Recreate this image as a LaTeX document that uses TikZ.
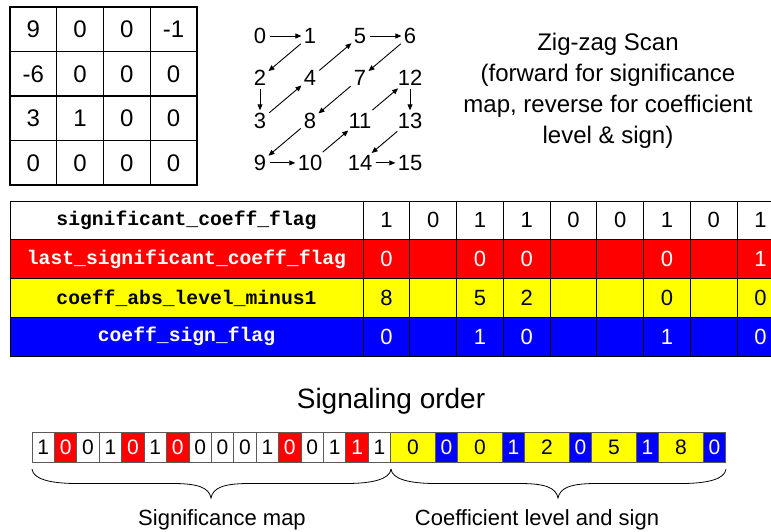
\documentclass[tikz,border=0pt]{standalone}
\usepackage{fontspec}
\setmainfont{Liberation Sans}
\setmonofont{Liberation Mono}
\usetikzlibrary{arrows.meta}
\definecolor{cred}{RGB}{255,0,0}
\definecolor{cyel}{RGB}{255,255,0}
\definecolor{cblue}{RGB}{0,0,255}
\definecolor{cgrid}{RGB}{90,90,90}
\newcommand{\fsz}[1]{\fontsize{#1}{#1}\selectfont}
\newcommand{\mybrace}[3]{%
  \draw[line width=0.8pt] (#1,469) .. controls (#1+1,479) and (#1+18,483.5) .. (#1+45,483.5)
    -- (#2-38,483.5) .. controls (#2-12,483.5) and (#2-2,488) .. (#2,498)
    .. controls (#2+2,488) and (#2+12,483.5) .. (#2+38,483.5)
    -- (#3-45,483.5) .. controls (#3-18,483.5) and (#3-1,479) .. (#3,469);}
\begin{document}
\begin{tikzpicture}[x=1pt,y=-1pt,
  matcell/.style={draw=black, line width=1.3pt, minimum width=46.75pt, minimum height=44.5pt, inner sep=0pt, outer sep=0pt, font=\fsz{24}},
  zz/.style={inner sep=1.8pt, font=\fsz{22}},
  arr/.style={-{Triangle[length=6pt,width=5pt]}, line width=0.9pt, shorten <=1.5pt, shorten >=0.5pt},
  tcell/.style={draw=black, line width=1pt, minimum width=46.75pt, minimum height=38.75pt, inner sep=0pt, outer sep=0pt, font=\fsz{22}},
  lcell/.style={draw=black, line width=1pt, minimum width=353pt, minimum height=38.75pt, inner sep=0pt, outer sep=0pt, font=\fsz{19.7}\ttfamily\bfseries},
  bcell/.style={draw=cgrid, line width=0.8pt, minimum height=30pt, inner sep=0pt, outer sep=0pt, font=\fsz{21}},
  ttl/.style={align=center, inner sep=0pt}
]
\useasboundingbox (0,0) rectangle (771,531);

% ---- 4x4 matrix
\foreach \v [count=\i from 0] in {9,0,0,-1,-6,0,0,0,3,1,0,0,0,0,0,0} {
  \pgfmathtruncatemacro\cc{mod(\i,4)}
  \pgfmathtruncatemacro\rr{div(\i,4)}
  \node[matcell] (m\i) at ({10+46.75*\cc+23.375},{7+44.5*\rr+22.25}) {\v};
}

% ---- zig-zag scan numbers
\foreach \n/\cc/\rr in {0/0/0,1/1/0,5/2/0,6/3/0,2/0/1,4/1/1,7/2/1,12/3/1,3/0/2,8/1/2,11/2/2,13/3/2,9/0/3,10/1/3,14/2/3,15/3/3} {
  \node[zz] (z\n) at ({260+50*\cc},{36+42.3*\rr}) {\n};
}
\foreach \a/\b in {0/1,1/2,2/3,3/4,4/5,5/6,6/7,7/8,8/9,9/10,10/11,11/12,12/13,13/14,14/15} {
  \draw[arr] (z\a) -- (z\b);
}

\node[ttl, font=\fontsize{24}{31}\selectfont] (zzt) at (608,91) {Zig-zag Scan\\(forward for significance\\map, reverse for coefficient\\level \& sign)};

% ---- syntax table
\begin{scope}
\clip (0,0) rectangle (771,531);
\foreach \r/\lab/\fc/\tc/\vals in {
  0/significant\_coeff\_flag/white/black/{1,0,1,1,0,0,1,0,1},
  1/last\_significant\_coeff\_flag/cred/white/{0,{},0,0,{},{},0,{},1},
  2/coeff\_abs\_level\_minus1/cyel/black/{8,{},5,2,{},{},0,{},0},
  3/coeff\_sign\_flag/cblue/white/{0,{},1,0,{},{},1,{},0}} {
  \node[lcell, fill=\fc, text=\tc] (l\r) at (186.5,{201+38.75*(\r+0.5)}) {\lab};
  \foreach \v [count=\j] in \vals {
    \node[tcell, fill=\fc, text=\tc] (t\r-\j) at ({363+46.75*(\j-0.5)},{201+38.75*(\r+0.5)}) {\v};
  }
}
\end{scope}

% ---- signaling order
\node[inner sep=0pt, font=\fsz{28}] (so) at (391,401) {Signaling order};

\foreach \fc/\tc/\v [count=\k] in {white/black/1,cred/white/0,white/black/0,white/black/1,cred/white/0,white/black/1,cred/white/0,white/black/0,white/black/0,white/black/0,white/black/1,cred/white/0,white/black/0,white/black/1,cred/white/1,white/black/1} {
  \node[bcell, minimum width=22.42pt, fill=\fc, text=\tc] (b\k) at ({32+22.42*(\k-0.5)},447) {\v};
}
\foreach \yv/\bv [count=\p from 0] in {0/0,0/1,2/0,5/1,8/0} {
  \node[bcell, minimum width=44.5pt, fill=cyel, text=black] (y\p) at ({390.7+67*\p+22.25},447) {\yv};
  \node[bcell, minimum width=22.5pt, fill=cblue, text=white] (u\p) at ({390.7+67*\p+44.5+11.25},447) {\bv};
}

% ---- braces and labels
\mybrace{32}{211}{391}
\mybrace{391}{558}{726}
\node[inner sep=0pt, font=\fsz{22}] (smap) at (222,520) {Significance map};
\node[inner sep=0pt, font=\fsz{22}] (clev) at (537,520) {Coefficient level and sign};
\end{tikzpicture}
\end{document}
